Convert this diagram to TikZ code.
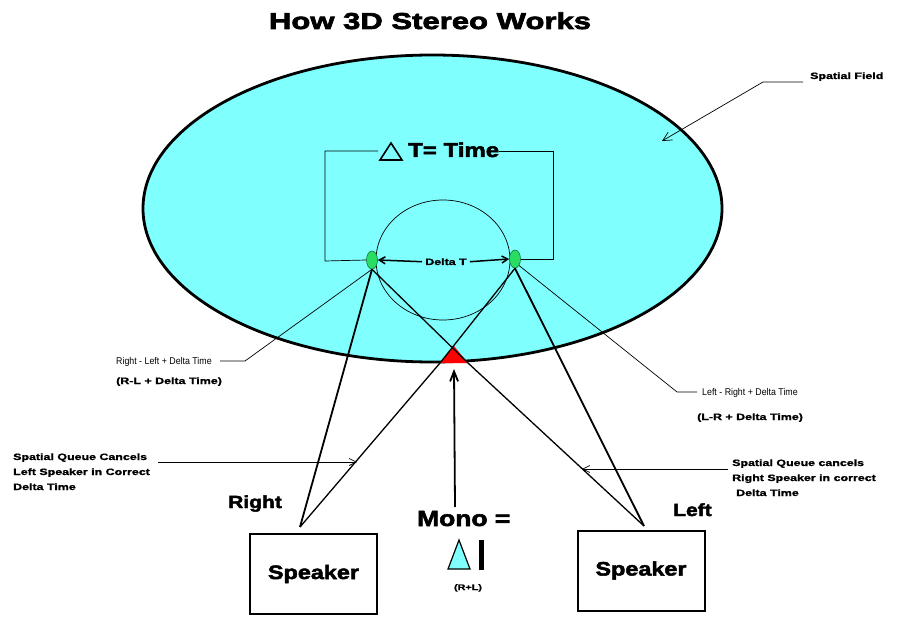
\documentclass[tikz,border=0pt]{standalone}
\usepackage{fontspec}
\setmainfont{Liberation Sans}
\newfontfamily\heavy{Liberation Sans Bold}[FakeStretch=1.2,FakeBold=2.5]
\newfontfamily\wideb{Liberation Sans Bold}[FakeStretch=1.35,FakeBold=1.2]
\newfontfamily\titlef{Liberation Sans Bold}[FakeStretch=1.35,FakeBold=3]
\newfontfamily\narrowr{Liberation Sans}[FakeStretch=0.9]
\usetikzlibrary{arrows.meta,shapes.geometric}
\definecolor{fieldcyan}{RGB}{128,255,255}
\definecolor{eargreen}{RGB}{40,220,100}
\definecolor{eardark}{RGB}{20,120,50}
\tikzset{
  txt/.style={inner sep=0pt, anchor=base west},
  smallb/.style={txt, font=\wideb\fontsize{9.2}{11}\selectfont},
  smallr/.style={txt, font=\narrowr\fontsize{9.8}{11}\selectfont},
  bigb/.style={txt, font=\heavy\fontsize{17.5}{20}\selectfont},
  ear/.style={ellipse, draw=eardark, fill=eargreen, line width=0.6pt, minimum width=11pt, minimum height=18pt, inner sep=0pt},
  spk/.style={draw, line width=2pt, minimum width=127pt, minimum height=80pt, font=\heavy\fontsize{19.5}{22}\selectfont},
  barb/.style={-{Straight Barb[length=7pt,width=7pt]}},
  thinl/.style={line width=0.7pt},
  ray/.style={line width=1.3pt},
  thickray/.style={line width=1.8pt}
}
\begin{document}
\begin{tikzpicture}[x=1pt,y=-1pt]
\useasboundingbox (0,0) rectangle (897,631);
\fill[white] (0,0) rectangle (897,631);

% title
\node[inner sep=0pt, anchor=base, font=\titlef\fontsize{23}{26}\selectfont] (title) at (430,29) {How 3D Stereo Works};

% spatial field
\node[ellipse, draw, line width=2.8pt, fill=fieldcyan, minimum width=579pt, minimum height=307pt, inner sep=0pt] (field) at (432.5,208.5) {};
\node[ellipse, draw, line width=0.7pt, minimum width=134pt, minimum height=120pt, inner sep=0pt] (head) at (443,260) {};

% red triangle
\coordinate (apex) at (454,346);
\coordinate (tl) at (440,363);
\coordinate (tr) at (468,363);
\fill[red] (apex) -- (tl) -- (tr) -- cycle;

% ears
\node[ear] (lear) at (372,260) {};
\node[ear] (rear) at (515,259) {};

% delta T = time
\draw[line width=1.6pt] (380,160) -- (402,160) -- (391,143) -- cycle;
\node[txt, font=\heavy\fontsize{20}{24}\selectfont] (ttime) at (408,157) {T= Time};
\draw[thinl] (lear.west) -- (325,261) -- (325,151) -- (378,151);
\draw[thinl] (ttime.east |- 0,151) -- (553,151) -- (553,259) -- (rear.east);

% delta T arrow
\node[smallb, anchor=base] (dT) at (446,265) {Delta T};
\draw[line width=1.5pt, -{Straight Barb[length=6pt,width=7pt]}] ([xshift=-3pt]dT.west) -- (lear.east);
\draw[line width=1.5pt, -{Straight Barb[length=6pt,width=7pt]}] ([xshift=3pt]dT.east) -- (rear.west);

% speakers
\node[spk] (rspk) at (313.5,574) {Speaker};
\node[spk] (lspk) at (641,570.5) {Speaker};
\coordinate (rs) at (300,527);
\coordinate (ls) at (644,526);
\draw[thickray] (lear.south) -- (rs);
\draw[thickray] (rear.south) -- (ls);
\draw[ray] (rear.south) -- (tl) -- (rs);
\draw[ray] (lear.south) -- (tr) -- (ls);

\node[bigb] (right) at (228,508) {Right};
\node[bigb] (left) at (673,516) {Left};

% mono
\coordinate (monotail) at (455,507);
\draw[line width=1.8pt, -{Straight Barb[length=10pt,width=8pt]}] (monotail) -- (454,369);
\node[txt, font=\heavy\fontsize{22}{26}\selectfont] (mono) at (417,526) {Mono =};
\draw[line width=1.2pt, fill=fieldcyan] (448,569) -- (470,569) -- (459,540) -- cycle;
\fill (479,540) rectangle (484,570);
\node[inner sep=0pt, anchor=base, font=\wideb\fontsize{8}{10}\selectfont] (rl) at (468,590) {(R+L)};

% annotations
\node[smallr] (rlt) at (116,364) {Right - Left + Delta Time};
\node[smallb] (rlb) at (116,384) {(R-L + Delta Time)};
\coordinate (rlk) at (245,361);
\draw[thinl] (lear.south) -- (rlk) -- (220,361);

\node[smallr] (lrt) at (702,395) {Left - Right + Delta Time};
\node[smallb] (lrb) at (697,420) {(L-R + Delta Time)};
\coordinate (lrk) at (677,392);
\draw[thinl] (rear.south east) -- (lrk) -- (697,392);

\node[smallb] (sf) at (810,79) {Spatial Field};
\coordinate (sfk) at (763,82);
\coordinate (sftip) at (662,141);
\draw[thinl, -{Straight Barb[length=9pt,width=9pt]}] (803,82) -- (sfk) -- (sftip);

\node[smallb] (q1) at (13,460) {Spatial Queue Cancels};
\node[smallb] (q2) at (13,475) {Left Speaker in Correct};
\node[smallb] (q3) at (13,490) {Delta Time};
\coordinate (q1tip) at (357,462);
\draw[thinl, barb] (158,462) -- (q1tip);

\node[smallb] (p1) at (732,466) {Spatial Queue cancels};
\node[smallb] (p2) at (732,481) {Right Speaker in correct};
\node[smallb] (p3) at (736,496) {Delta Time};
\coordinate (p1tip) at (582,469);
\draw[thinl, barb] (728,469) -- (p1tip);
\end{tikzpicture}
\end{document}
